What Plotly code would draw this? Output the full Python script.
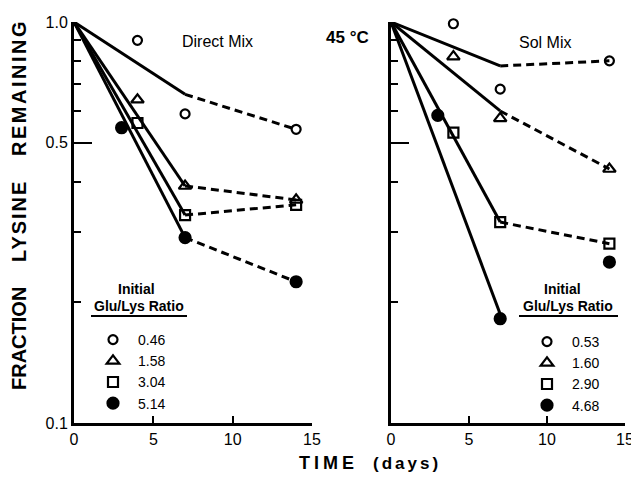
import plotly.graph_objects as go

W, H = 631, 480

# ---- Direct Mix (left panel) ----
dm_ratios = ["0.46", "1.58", "3.04", "5.14"]
dm_times = [[4, 7, 14], [4, 7, 14], [4, 7, 14], [3, 7, 14]]
dm_values = [[0.90, 0.59, 0.54],
             [0.64, 0.39, 0.36],
             [0.56, 0.33, 0.35],
             [0.545, 0.29, 0.225]]
dm_fit_t = [7, 7, 7, 7]            # end of the fitted (solid) line
dm_fit_end = [0.66, 0.39, 0.33, 0.29]
dm_tail_end = [0.54, 0.36, 0.35, 0.225]   # dashed continuation at day 14

# ---- Sol Mix (right panel) ----
sm_ratios = ["0.53", "1.60", "2.90", "4.68"]
sm_times = [[4, 7, 14], [4, 7, 14], [4, 7, 14], [3, 7, 14]]
sm_values = [[0.99, 0.68, 0.80],
             [0.82, 0.575, 0.43],
             [0.53, 0.317, 0.28],
             [0.585, 0.182, 0.252]]
sm_fit_t = [7, 7, 7, 7.2]
sm_fit_end = [0.777, 0.60, 0.317, 0.178]
sm_tail_end = [0.80, 0.43, 0.28, None]

tail_t = 14
x_ticks = [0, 5, 10, 15]
y_major = [0.1, 0.5, 1.0]
y_major_text = ["0.1", "0.5", "1.0"]
y_minor = [0.2, 0.3, 0.4, 0.6, 0.7, 0.8, 0.9]

symbols = ["circle-open", "triangle-up-open", "square-open", "circle"]
sizes = [9, 11, 10, 11]
FONT = "Liberation Sans, Arial, sans-serif"
INK = "black"

fig = go.Figure()


def add_panel(xa, ya, legend, times, values, fit_t, fit_end, tail_end, ratios):
    for i in range(4):
        # fitted line from t=0
        fig.add_trace(go.Scatter(
            x=[0, fit_t[i]], y=[1.0, fit_end[i]], mode="lines",
            line=dict(color=INK, width=3), xaxis=xa, yaxis=ya,
            showlegend=False, cliponaxis=False, hoverinfo="skip"))
        if tail_end[i] is not None:
            fig.add_trace(go.Scatter(
                x=[fit_t[i], tail_t], y=[fit_end[i], tail_end[i]], mode="lines",
                line=dict(color=INK, width=3, dash="8px,5px"), xaxis=xa, yaxis=ya,
                showlegend=False, cliponaxis=False, hoverinfo="skip"))
        fig.add_trace(go.Scatter(
            x=times[i], y=values[i], mode="markers",
            marker=dict(symbol=symbols[i], size=sizes[i], color=INK,
                        line=dict(color=INK, width=2.2)),
            xaxis=xa, yaxis=ya, showlegend=False, cliponaxis=False))
        # legend swatch
        fig.add_trace(go.Scatter(
            x=[None], y=[None], mode="markers", name=ratios[i],
            marker=dict(symbol=symbols[i], size=sizes[i], color=INK,
                        line=dict(color=INK, width=2.2)),
            xaxis=xa, yaxis=ya, legend=legend, showlegend=True))


add_panel("x", "y", "legend", dm_times, dm_values, dm_fit_t, dm_fit_end, dm_tail_end, dm_ratios)
add_panel("x2", "y2", "legend2", sm_times, sm_values, sm_fit_t, sm_fit_end, sm_tail_end, sm_ratios)

xL = (74 / W, 312 / W)
xR = (391 / W, 625 / W)
yD = (57 / H, 458 / H)

xaxis_common = dict(range=[0, 15], tickvals=x_ticks, ticks="inside", ticklen=7, tickwidth=2,
                    tickcolor=INK, showline=True, linecolor=INK, linewidth=3, showgrid=False,
                    zeroline=False, automargin=False, ticklabeloverflow="allow",
                    tickfont=dict(family=FONT, size=16, color=INK))
yaxis_common = dict(type="log", range=[-1, 0], tickvals=y_major, ticktext=y_major_text,
                    ticks="inside", ticklen=18, tickwidth=2, tickcolor=INK,
                    minor=dict(tickvals=y_minor, ticks="inside", ticklen=7, tickwidth=2,
                               tickcolor=INK, showgrid=False),
                    showline=True, linecolor=INK, linewidth=3, showgrid=False, zeroline=False,
                    automargin=False, ticklabeloverflow="allow",
                    tickfont=dict(family=FONT, size=16, color=INK))

legend_common = dict(bgcolor="rgba(0,0,0,0)", borderwidth=0,
                     font=dict(family=FONT, size=14, color=INK),
                     itemsizing="trace", itemwidth=40, yanchor="top", xanchor="left")

fig.update_layout(
    width=W, height=H, margin=dict(l=0, r=0, t=0, b=0, autoexpand=False),
    paper_bgcolor="white", plot_bgcolor="white",
    xaxis=dict(domain=xL, anchor="y", **xaxis_common),
    yaxis=dict(domain=yD, anchor="x", showticklabels=True, **yaxis_common),
    xaxis2=dict(domain=xR, anchor="y2", **xaxis_common),
    yaxis2=dict(domain=yD, anchor="x2", showticklabels=False, **yaxis_common),
    legend=dict(x=88 / W, y=1 - 324 / H, **legend_common),
    legend2=dict(x=522 / W, y=1 - 326 / H, **legend_common),
    showlegend=True,
)

# underline beneath each legend heading
for x0, x1 in [(91, 187), (519, 618)]:
    fig.add_shape(type="line", xref="paper", yref="paper",
                  x0=x0 / W, x1=x1 / W, y0=1 - 316 / H, y1=1 - 316 / H,
                  line=dict(color=INK, width=2))


def label(text, x, y, size=16, angle=0, bold=False, spacing=0):
    if spacing:
        text = f'<span style="letter-spacing:{spacing}px">{text}</span>'
    fig.add_annotation(text=f"<b>{text}</b>" if bold else text,
                       xref="paper", yref="paper", x=x / W, y=1 - y / H,
                       xanchor="center", yanchor="middle",
                       showarrow=False, textangle=angle,
                       font=dict(family=FONT, size=size, color=INK))


label("Direct Mix", 217, 41, size=16)
label("Sol Mix", 545, 42, size=16)
label("45 °C", 347, 37, size=17, bold=True)
label("Initial", 136, 289, size=14, bold=True)
label("Glu/Lys Ratio", 139, 306, size=14, bold=True)
label("Initial", 562, 289, size=14, bold=True)
label("Glu/Lys Ratio", 568, 306, size=14, bold=True)
label("FRACTION", 19, 339, size=20, angle=-90, bold=True)
label("LYSINE", 19, 221, size=20, angle=-90, bold=True, spacing=2)
label("REMAINING", 19, 88, size=20, angle=-90, bold=True, spacing=2.5)
label("TIME", 329, 463, size=18, bold=True, spacing=4)
label("(days)", 407, 463, size=17, bold=True, spacing=3)

fig.write_html("out.html")
